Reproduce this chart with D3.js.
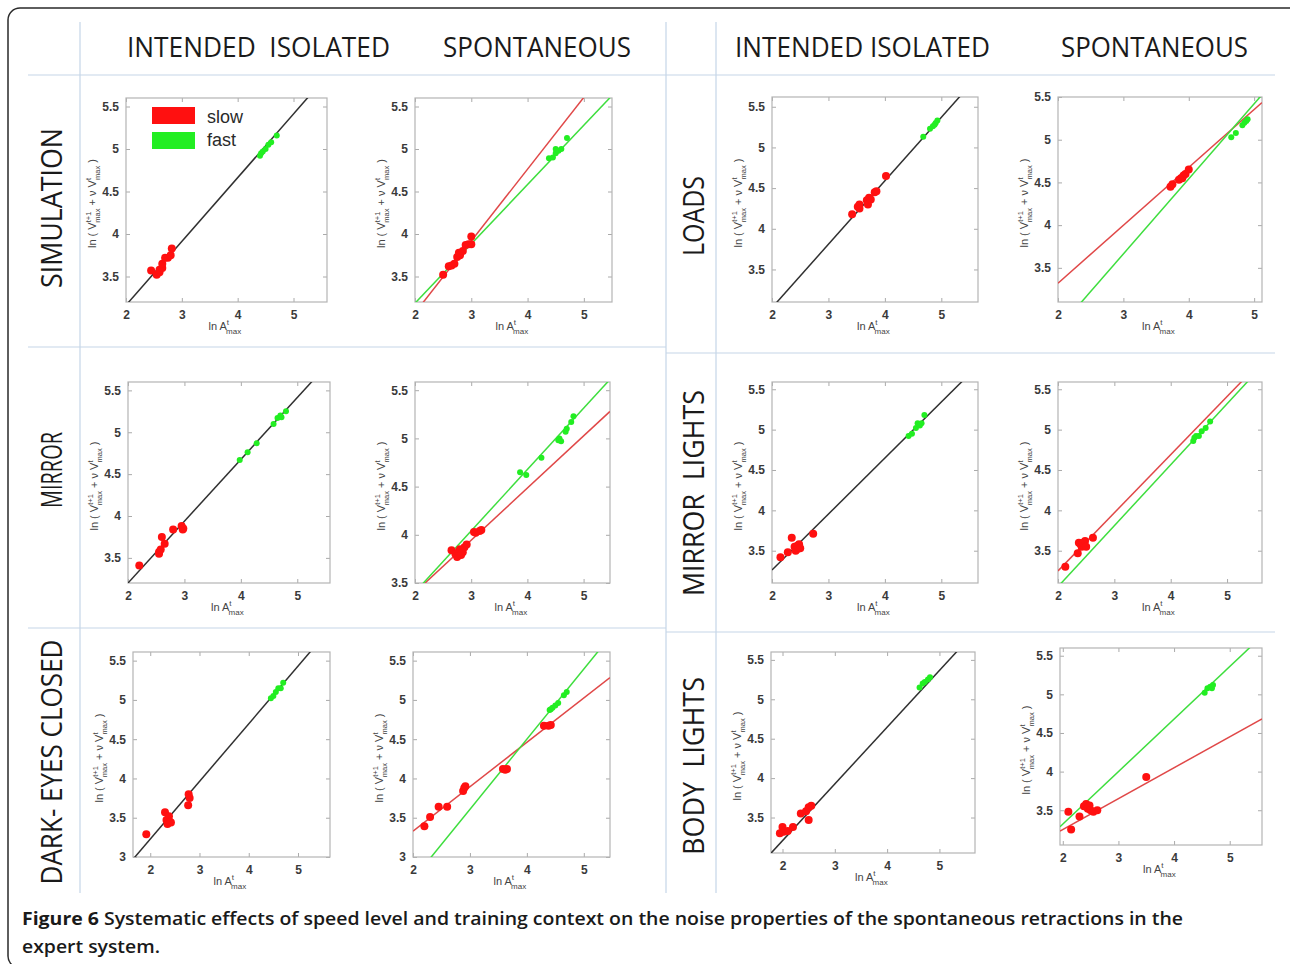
<!DOCTYPE html>
<html>
<head>
<meta charset="utf-8">
<script src="https://cdn.jsdelivr.net/npm/d3@7"></script>
<style>
  body { margin: 0; background: #fff; }
  svg { display: block; }
</style>
</head>
<body>
<div id="wrapper"></div>
<script>
// ---- data ----
const columnTitles = ['INTENDED  ISOLATED', 'SPONTANEOUS', 'INTENDED ISOLATED', 'SPONTANEOUS'];
const rowTitlesLeft = ['SIMULATION', 'MIRROR', 'DARK- EYES CLOSED'];
const rowTitlesRight = ['LOADS', 'MIRROR  LIGHTS', 'BODY  LIGHTS'];
const xTicks = [2, 3, 4, 5];
const yTicks = [3, 3.5, 4, 4.5, 5, 5.5];
const legendLabels = ['slow', 'fast'];
const captionBold = 'Figure 6';
const captionLine1 = ' Systematic effects of speed level and training context on the noise properties of the spontaneous retractions in the';
const captionLine2 = 'expert system.';

// [ln A, ln(V + vV)] points, slow (red) and fast (green)
const simIntSlow = [[2.45,3.57],[2.55,3.52],[2.6,3.55],[2.6,3.58],[2.65,3.6],[2.65,3.65],[2.7,3.72],[2.75,3.72],[2.8,3.75],[2.82,3.83]];
const simIntFast = [[4.4,4.92],[4.42,4.95],[4.45,4.97],[4.5,5.0],[4.55,5.05],[4.6,5.08],[4.7,5.16]];
const simSpoSlow = [[2.5,3.52],[2.6,3.62],[2.65,3.63],[2.7,3.65],[2.75,3.73],[2.78,3.78],[2.8,3.75],[2.85,3.8],[2.9,3.87],[2.95,3.88],[3.0,3.97],[3.0,3.88]];
const simSpoFast = [[4.38,4.89],[4.45,4.9],[4.5,4.95],[4.5,5.0],[4.55,4.98],[4.6,5.0],[4.7,5.13]];
const loadIntSlow = [[3.42,4.18],[3.52,4.27],[3.55,4.3],[3.55,4.25],[3.68,4.35],[3.7,4.3],[3.72,4.38],[3.75,4.36],[3.82,4.45],[3.85,4.46],[4.02,4.65]];
const loadIntFast = [[4.68,5.13],[4.8,5.23],[4.85,5.26],[4.88,5.28],[4.9,5.3],[4.93,5.33]];
const loadSpoSlow = [[3.72,4.45],[3.75,4.48],[3.85,4.53],[3.88,4.55],[3.9,4.55],[3.92,4.58],[3.95,4.6],[4.0,4.65]];
const loadSpoFast = [[4.65,5.03],[4.72,5.08],[4.82,5.17],[4.85,5.2],[4.88,5.22],[4.9,5.24]];
const mirIntSlow = [[2.2,3.41],[2.55,3.55],[2.55,3.57],[2.58,3.6],[2.6,3.75],[2.65,3.67],[2.8,3.84],[2.95,3.88],[2.97,3.84],[2.98,3.85]];
const mirIntFast = [[3.98,4.67],[4.12,4.76],[4.28,4.87],[4.58,5.1],[4.65,5.17],[4.7,5.2],[4.72,5.18],[4.8,5.25]];
const mirSpoSlow = [[2.65,3.84],[2.72,3.8],[2.75,3.77],[2.78,3.83],[2.8,3.85],[2.82,3.79],[2.85,3.82],[2.88,3.87],[2.92,3.9],[3.05,4.03],[3.08,4.02],[3.15,4.04],[3.18,4.05]];
const mirSpoFast = [[3.87,4.65],[3.98,4.62],[4.25,4.8],[4.55,4.98],[4.57,5.0],[4.6,4.97],[4.68,5.07],[4.7,5.1],[4.78,5.17],[4.82,5.23]];
const mlIntSlow = [[2.15,3.42],[2.28,3.48],[2.35,3.66],[2.4,3.55],[2.42,3.5],[2.45,3.52],[2.45,3.56],[2.48,3.58],[2.5,3.53],[2.73,3.71]];
const mlIntFast = [[4.42,4.92],[4.48,4.95],[4.55,5.02],[4.58,5.08],[4.62,5.05],[4.65,5.08],[4.7,5.18]];
const mlSpoSlow = [[2.13,3.3],[2.35,3.47],[2.37,3.6],[2.4,3.58],[2.42,3.55],[2.44,3.57],[2.45,3.6],[2.48,3.62],[2.5,3.55],[2.62,3.66]];
const mlSpoFast = [[4.4,4.86],[4.42,4.9],[4.45,4.92],[4.5,4.92],[4.55,4.98],[4.62,5.02],[4.7,5.1]];
const darkIntSlow = [[1.92,3.29],[2.3,3.57],[2.33,3.47],[2.35,3.42],[2.38,3.52],[2.4,3.45],[2.42,3.44],[2.77,3.66],[2.78,3.8],[2.8,3.75]];
const darkIntFast = [[4.45,5.02],[4.5,5.05],[4.55,5.1],[4.6,5.15],[4.65,5.15],[4.7,5.22]];
const darkSpoSlow = [[2.2,3.39],[2.3,3.51],[2.45,3.64],[2.6,3.64],[2.88,3.84],[2.9,3.88],[2.92,3.9],[3.58,4.12],[3.62,4.11],[3.65,4.12],[4.3,4.67],[4.38,4.67],[4.42,4.68]];
const darkSpoFast = [[4.4,4.87],[4.42,4.88],[4.45,4.9],[4.5,4.93],[4.55,4.96],[4.65,5.06],[4.7,5.1]];
const bodyIntSlow = [[1.95,3.3],[2.0,3.38],[2.02,3.32],[2.1,3.33],[2.2,3.38],[2.35,3.55],[2.45,3.58],[2.5,3.47],[2.5,3.63],[2.55,3.65]];
const bodyIntFast = [[4.62,5.15],[4.68,5.2],[4.72,5.22],[4.78,5.25],[4.82,5.28]];
const bodySpoSlow = [[2.1,3.48],[2.15,3.25],[2.3,3.42],[2.38,3.55],[2.42,3.58],[2.45,3.52],[2.48,3.56],[2.5,3.5],[2.55,3.48],[2.62,3.5],[3.5,3.93]];
const bodySpoFast = [[4.55,5.02],[4.6,5.08],[4.65,5.1],[4.68,5.08],[4.7,5.12]];

// fitted lines: [intercept, slope]
const simIntFit = [1.6625, 0.75];
const simSpoSlowFit = [1.383, 0.845];
const simSpoFastFit = [1.79, 0.698];
const loadIntFit = [1.47, 0.78];
const loadSpoSlowFit = [1.964, 0.678];
const loadSpoFastFit = [1.026, 0.879];
const mirIntFit = [1.724, 0.738];
const mirSpoSlowFit = [2.321, 0.541];
const mirSpoFastFit = [2.133, 0.636];
const mlIntFit = [1.872, 0.694];
const mlSpoSlowFit = [1.81, 0.72];
const mlSpoFastFit = [1.545, 0.755];
const darkIntFit = [1.76, 0.734];
const darkSpoSlowFit = [2.2, 0.565];
const darkSpoFastFit = [0.928, 0.893];
const bodyIntFit = [1.766, 0.72];
const bodySpoSlowFit = [2.45, 0.40];
const bodySpoFastFit = [1.96, 0.68];

// axis ranges per panel
const panels = [
    { xDomain: [2, 5.6],   yDomain: [3.2, 5.6],   slow: simIntSlow,  fast: simIntFast,  fits: [['k', simIntFit]], legend: true },
    { xDomain: [2, 5.5],   yDomain: [3.2, 5.6],   slow: simSpoSlow,  fast: simSpoFast,  fits: [['r', simSpoSlowFit], ['g', simSpoFastFit]] },
    { xDomain: [2, 5.65],  yDomain: [3.1, 5.62],  slow: loadIntSlow, fast: loadIntFast, fits: [['k', loadIntFit]] },
    { xDomain: [2, 5.12],  yDomain: [3.1, 5.5],   slow: loadSpoSlow, fast: loadSpoFast, fits: [['r', loadSpoSlowFit], ['g', loadSpoFastFit]] },
    { xDomain: [2, 5.58],  yDomain: [3.2, 5.6],   slow: mirIntSlow,  fast: mirIntFast,  fits: [['k', mirIntFit]] },
    { xDomain: [2, 5.47],  yDomain: [3.5, 5.585], slow: mirSpoSlow,  fast: mirSpoFast,  fits: [['r', mirSpoSlowFit], ['g', mirSpoFastFit]] },
    { xDomain: [2, 5.65],  yDomain: [3.1, 5.59],  slow: mlIntSlow,   fast: mlIntFast,   fits: [['k', mlIntFit]] },
    { xDomain: [2, 5.62],  yDomain: [3.1, 5.59],  slow: mlSpoSlow,   fast: mlSpoFast,   fits: [['r', mlSpoSlowFit], ['g', mlSpoFastFit]] },
    { xDomain: [1.65, 5.65], yDomain: [3, 5.61],  slow: darkIntSlow, fast: darkIntFast, fits: [['k', darkIntFit]] },
    { xDomain: [2, 5.46],  yDomain: [3, 5.61],    slow: darkSpoSlow, fast: darkSpoFast, fits: [['r', darkSpoSlowFit], ['g', darkSpoFastFit]] },
    { xDomain: [1.78, 5.68], yDomain: [3.05, 5.6], slow: bodyIntSlow, fast: bodyIntFast, fits: [['k', bodyIntFit]] },
    { xDomain: [1.95, 5.58], yDomain: [3.05, 5.6], slow: bodySpoSlow, fast: bodySpoFast, fits: [['r', bodySpoSlowFit], ['g', bodySpoFastFit]] }
];

// ---- layout (pixels) ----
const width = 1290, height = 964;
// plot boxes [left, top, right, bottom]
const boxes = [
    [126, 98, 327, 302], [415, 98, 612, 302], [772, 97, 978, 302], [1058, 97, 1262, 302],
    [128, 382, 330, 583], [415, 382, 610, 583], [772, 382, 978, 583], [1058, 382, 1262, 583],
    [133, 652, 330, 857], [413, 652, 610, 857], [771, 652, 975, 853], [1060, 648, 1262, 845]
];
const colors = { k: '#303030', r: '#e04848', g: '#3ede3e', slowDot: '#ff1010', fastDot: '#22ee22' };
const gridColor = '#c5d5e8';
const axisFont = 'Liberation Sans, Arial, sans-serif';
const titleFont = 'Open Sans, sans-serif';

const svg = d3.select('#wrapper')
    .append('svg')
    .attr('width', width)
    .attr('height', height);

// outer rounded frame
svg.append('rect')
    .attr('x', 8).attr('y', 8)
    .attr('width', 1310).attr('height', 960)
    .attr('rx', 12)
    .attr('fill', 'none')
    .attr('stroke', '#2a2a2a')
    .attr('stroke-width', 1.5);

// light blue grid between panels
const gridLines = [
    [80, 22, 80, 893], [666, 22, 666, 893], [716, 22, 716, 893],
    [28, 75, 1275, 75],
    [28, 347, 666, 347], [666, 353, 1275, 353],
    [28, 628, 666, 628], [666, 632, 1275, 632]
];
svg.append('g').selectAll('line')
    .data(gridLines)
    .enter()
    .append('line')
    .attr('x1', d => d[0]).attr('y1', d => d[1])
    .attr('x2', d => d[2]).attr('y2', d => d[3])
    .attr('stroke', gridColor)
    .attr('stroke-width', 1.2);

function fitText(sel, w) {
    sel.attr('textLength', w).attr('lengthAdjust', 'spacingAndGlyphs');
}

// column titles
const colPos = [[127, 263], [443, 188], [735, 255], [1061, 187]];
columnTitles.forEach((t, i) => {
    svg.append('text')
        .attr('x', colPos[i][0])
        .attr('y', 57)
        .attr('fill', '#1a1a1a')
        .style('font-family', titleFont)
        .style('font-size', '27px')
        .style('white-space', 'pre')
        .text(t)
        .call(fitText, colPos[i][1]);
});

// row titles (rotated)
const rowLeftPos = [[208, 160], [470, 76], [762, 245]];
const rowRightPos = [[216, 80], [493, 206], [766, 178]];
function rowTitle(t, x, cy, w) {
    svg.append('text')
        .attr('transform', `translate(${x},${cy}) rotate(-90)`)
        .attr('text-anchor', 'middle')
        .attr('fill', '#1a1a1a')
        .style('font-family', titleFont)
        .style('font-size', '30px')
        .style('white-space', 'pre')
        .text(t)
        .call(fitText, w);
}
rowTitlesLeft.forEach((t, i) => rowTitle(t, 62, rowLeftPos[i][0], rowLeftPos[i][1]));
rowTitlesRight.forEach((t, i) => rowTitle(t, 704, rowRightPos[i][0], rowRightPos[i][1]));

// ---- panels ----
const numFormat = d3.format('');

panels.forEach((p, i) => {
    const [l, t, r, b] = boxes[i];
    const xScale = d3.scaleLinear().domain(p.xDomain).range([l, r]);
    const yScale = d3.scaleLinear().domain(p.yDomain).range([b, t]);
    const g = svg.append('g');

    const clipId = 'clip' + i;
    g.append('clipPath').attr('id', clipId)
        .append('rect')
        .attr('x', l).attr('y', t).attr('width', r - l).attr('height', b - t);

    g.append('rect')
        .attr('x', l).attr('y', t)
        .attr('width', r - l).attr('height', b - t)
        .attr('fill', '#fff');

    const xt = xTicks.filter(v => v >= p.xDomain[0] && v <= p.xDomain[1]);
    const yt = yTicks.filter(v => v >= p.yDomain[0] && v <= p.yDomain[1]);

    // matlab-style axes: inward ticks on all four sides
    const axes = [
        d3.axisBottom(xScale).tickValues(xt).tickSizeInner(-4).tickSizeOuter(0).tickPadding(8).tickFormat(numFormat),
        d3.axisTop(xScale).tickValues(xt).tickSizeInner(-4).tickSizeOuter(0).tickFormat(''),
        d3.axisLeft(yScale).tickValues(yt).tickSizeInner(-4).tickSizeOuter(0).tickPadding(7).tickFormat(numFormat),
        d3.axisRight(yScale).tickValues(yt).tickSizeInner(-4).tickSizeOuter(0).tickFormat('')
    ];
    const offsets = [[0, b], [0, t], [l, 0], [r, 0]];
    axes.forEach((ax, k) => {
        const a = g.append('g')
            .attr('transform', `translate(${offsets[k][0]},${offsets[k][1]})`)
            .call(ax);
        a.select('.domain').remove();
        a.selectAll('line').attr('stroke', '#aaa');
        a.selectAll('text')
            .attr('fill', '#3a3a3a')
            .style('font-family', axisFont)
            .style('font-size', '12px')
            .style('font-weight', 'bold');
    });

    g.append('rect')
        .attr('x', l).attr('y', t)
        .attr('width', r - l).attr('height', b - t)
        .attr('fill', 'none')
        .attr('stroke', '#b4b4b4')
        .attr('stroke-width', 1.2);

    const plot = g.append('g').attr('clip-path', `url(#${clipId})`);

    // fitted lines
    p.fits.forEach(([c, fit]) => {
        const [x0, x1] = p.xDomain;
        plot.append('line')
            .attr('x1', xScale(x0)).attr('y1', yScale(fit[0] + fit[1] * x0))
            .attr('x2', xScale(x1)).attr('y2', yScale(fit[0] + fit[1] * x1))
            .attr('stroke', colors[c])
            .attr('stroke-width', 1.5);
    });

    plot.selectAll('circle.slow')
        .data(p.slow)
        .enter()
        .append('circle')
        .attr('class', 'slow')
        .attr('cx', d => xScale(d[0]))
        .attr('cy', d => yScale(d[1]))
        .attr('r', 4)
        .attr('fill', colors.slowDot);

    plot.selectAll('circle.fast')
        .data(p.fast)
        .enter()
        .append('circle')
        .attr('class', 'fast')
        .attr('cx', d => xScale(d[0]))
        .attr('cy', d => yScale(d[1]))
        .attr('r', 3)
        .attr('fill', colors.fastDot);

    // x label: ln A^t_max
    const cx = (l + r) / 2;
    const xl = g.append('text')
        .attr('x', cx - 18)
        .attr('y', b + 28)
        .attr('fill', '#444')
        .style('font-family', axisFont)
        .style('font-size', '11px');
    xl.append('tspan').text('ln A');
    xl.append('tspan').attr('dy', -5).style('font-size', '8px').text('t');
    xl.append('tspan').attr('dx', -3).attr('dy', 9).style('font-size', '8px').text('max');

    // y label: ln ( V^{t+1}_max + v V^t_max )
    const yl = g.append('text')
        .attr('transform', `translate(${l - 30},${(t + b) / 2 - 47}) rotate(-90)`)
        .attr('fill', '#444')
        .style('font-family', axisFont)
        .style('font-size', '11px');
    yl.attr('text-anchor', 'start');
    yl.append('tspan').attr('x', -95).text('ln ( V');
    yl.append('tspan').attr('dy', -5).style('font-size', '7.5px').text('t+1');
    yl.append('tspan').attr('dx', -11).attr('dy', 9).style('font-size', '7.5px').text('max');
    yl.append('tspan').attr('dy', -4).style('white-space', 'pre').text(' + \u03bd V');
    yl.append('tspan').attr('dy', -5).style('font-size', '7.5px').text('t');
    yl.append('tspan').attr('dx', -2).attr('dy', 9).style('font-size', '7.5px').text('max');
    yl.append('tspan').attr('dy', -4).style('white-space', 'pre').text(' )');

    if (p.legend) {
        const lg = g.append('g');
        [colors.slowDot, colors.fastDot].forEach((c, k) => {
            lg.append('rect')
                .attr('x', l + 26).attr('y', t + 9 + k * 25)
                .attr('width', 43).attr('height', 17)
                .attr('fill', c);
            lg.append('text')
                .attr('x', l + 81).attr('y', t + 25 + k * 23)
                .attr('fill', '#2a2a2a')
                .style('font-family', axisFont)
                .style('font-size', '18px')
                .text(legendLabels[k]);
        });
    }
});

// caption
const cap1 = svg.append('text')
    .attr('x', 22).attr('y', 925)
    .attr('fill', '#1a1a1a')
    .style('font-family', titleFont)
    .style('font-size', '18px')
    .style('font-weight', '600')
    .style('white-space', 'pre');
cap1.append('tspan').style('font-weight', '700').text(captionBold);
cap1.append('tspan').text(captionLine1);
cap1.call(fitText, 1161);

svg.append('text')
    .attr('x', 22).attr('y', 953)
    .attr('fill', '#1a1a1a')
    .style('font-family', titleFont)
    .style('font-size', '18px')
    .style('font-weight', '600')
    .text(captionLine2)
    .call(fitText, 138);
</script>
</body>
</html>
